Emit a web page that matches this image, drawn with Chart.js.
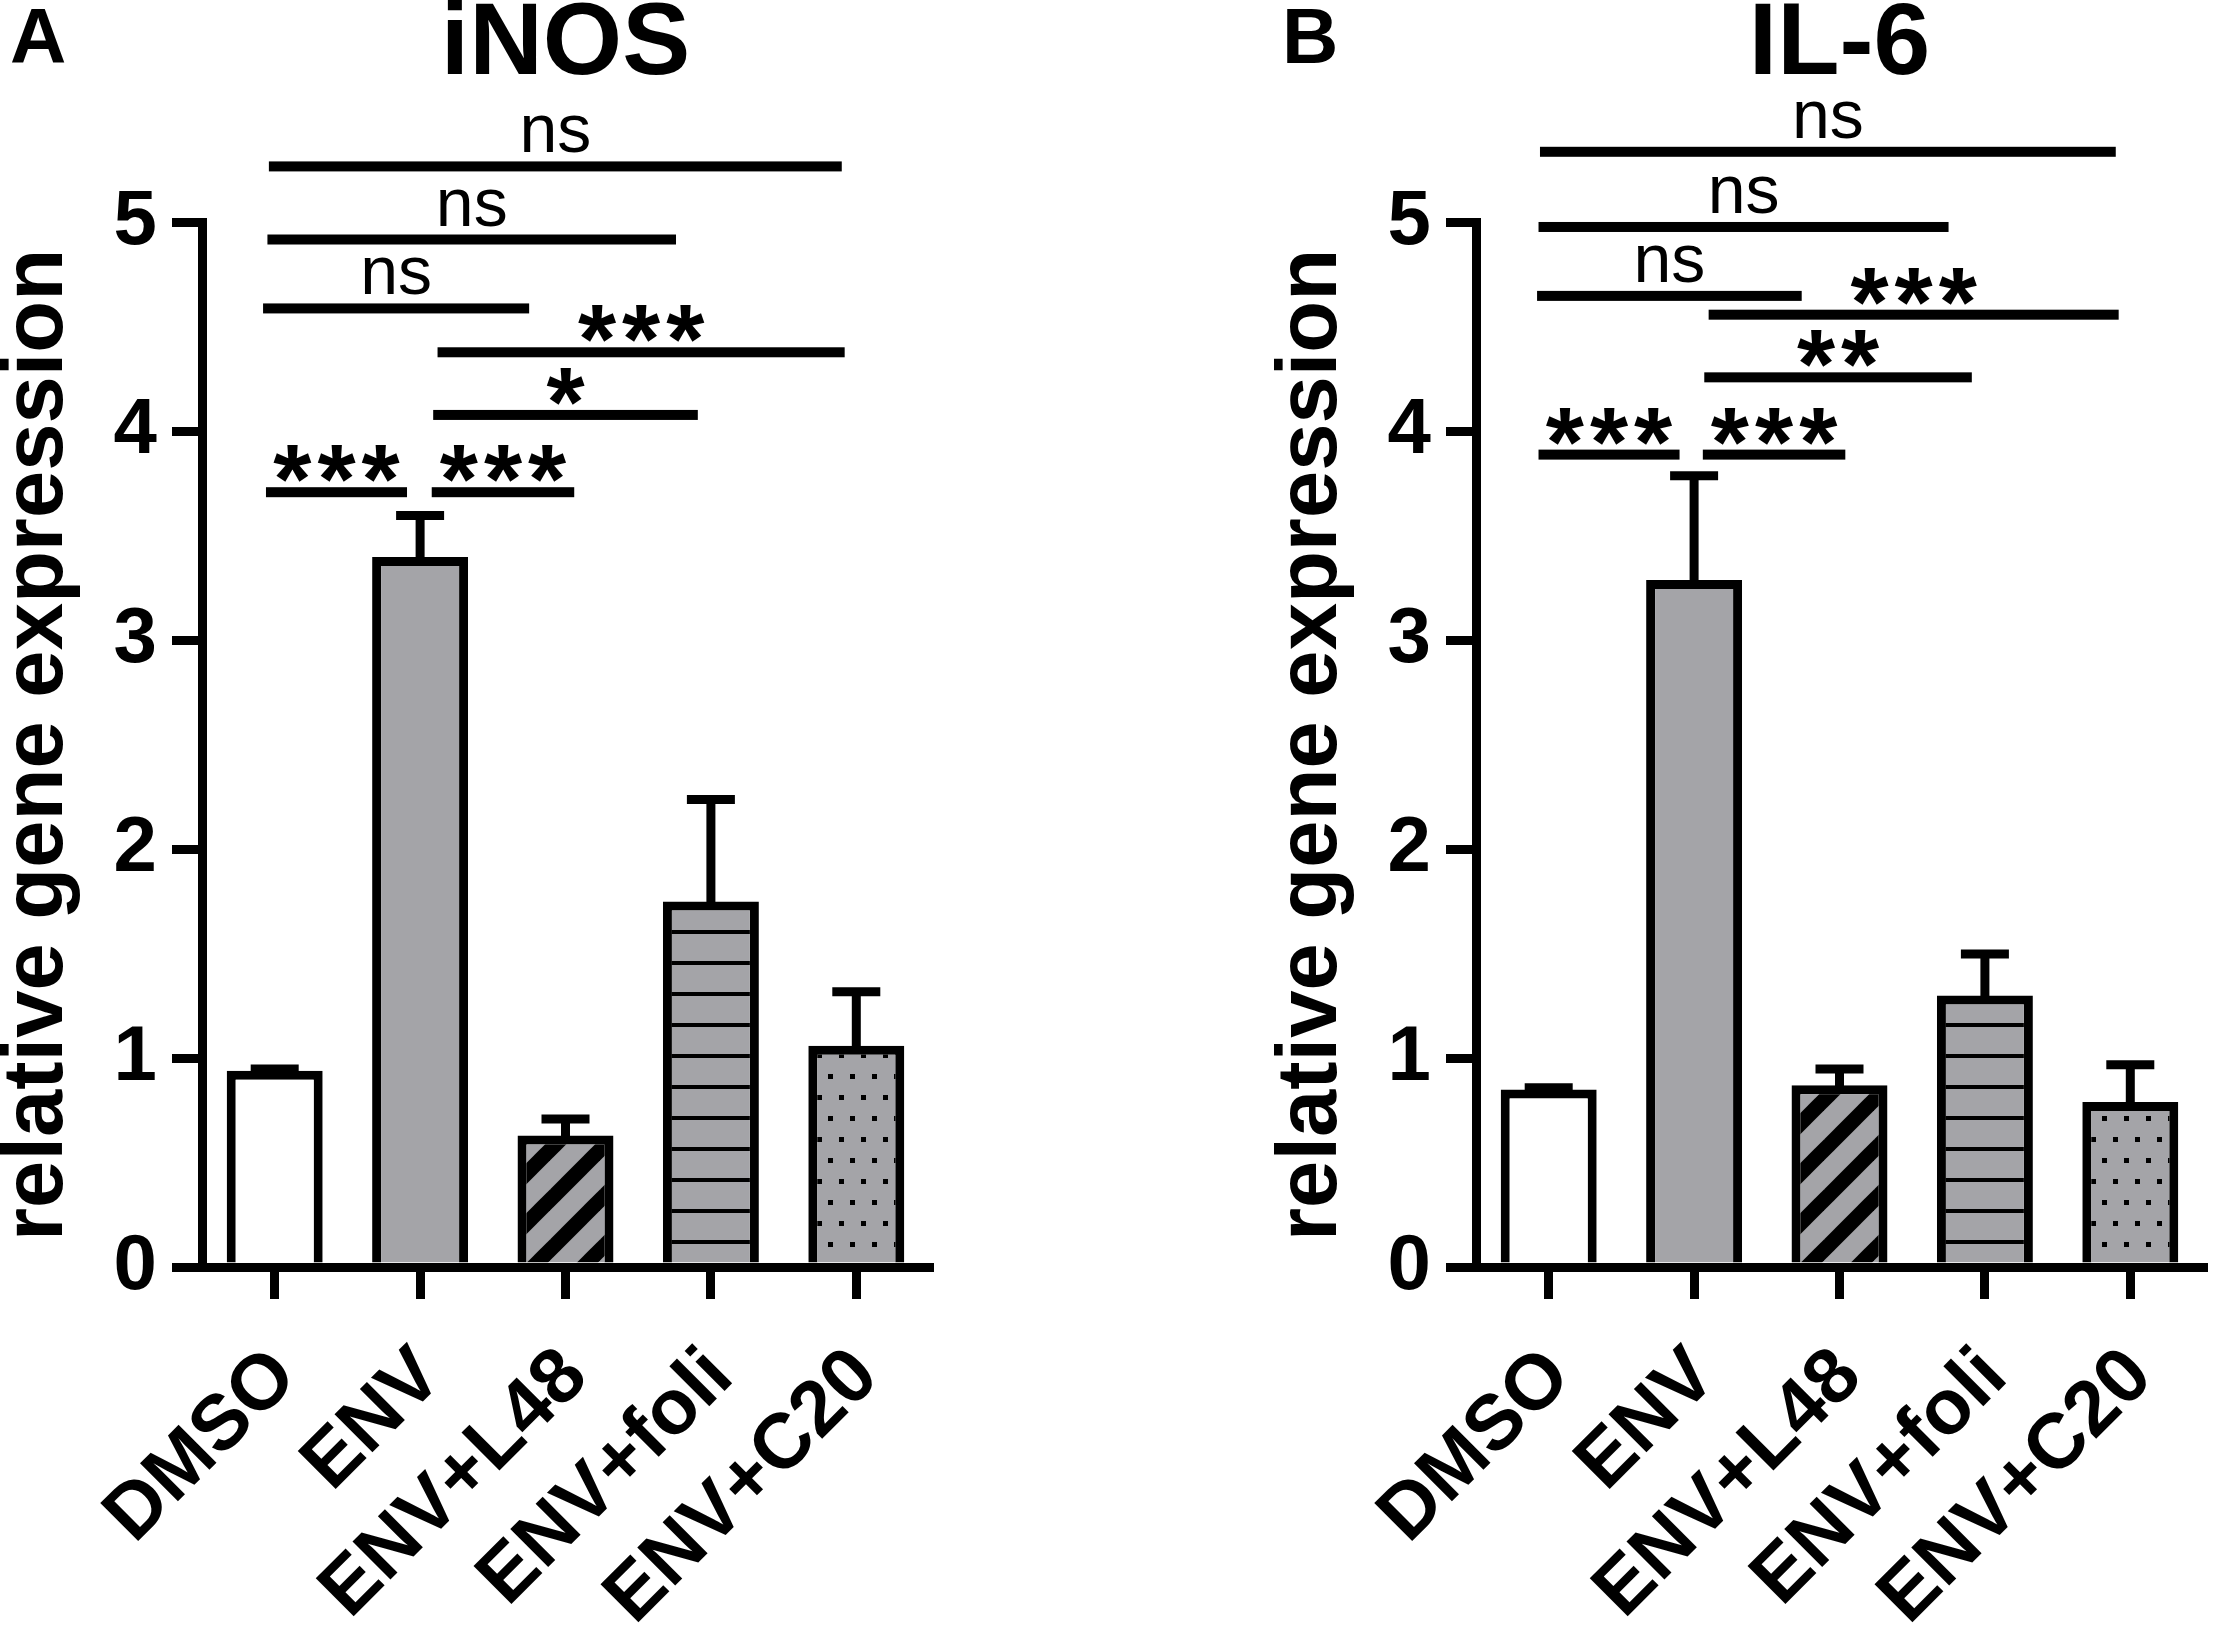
<!DOCTYPE html>
<html><head><meta charset="utf-8">
<script src="https://cdn.jsdelivr.net/npm/chart.js@4.4.0/dist/chart.umd.min.js"></script>
<style>
html,body{margin:0;padding:0;background:#fff;}
#wrap{position:relative;width:2217px;height:1625px;overflow:hidden;background:#fff;}
.panel{position:absolute;top:0;width:940px;height:1625px;}
#pA{left:0;}
#pB{left:1274px;}
</style></head><body>
<div id="wrap">
  <div class="panel" id="pA"><canvas id="cA"></canvas></div>
  <div class="panel" id="pB"><canvas id="cB"></canvas></div>
</div>
<script>
// ---------- data ----------
const categories = ['DMSO', 'ENV', 'ENV+L48', 'ENV+foli', 'ENV+C20'];
const yTickValues = [0, 1, 2, 3, 4, 5];

const inosMean = [0.94, 3.40, 0.63, 1.75, 1.06];
const inosSD   = [0.03, 0.22, 0.10, 0.51, 0.28];

const il6Mean = [0.85, 3.29, 0.87, 1.30, 0.79];
const il6SD   = [0.03, 0.52, 0.10, 0.22, 0.20];

// significance brackets (category index units, value level)
const inosSigLabels = ['ns', 'ns', 'ns', '***', '*', '***', '***'];
const inosSigFrom   = [-0.04, -0.05, -0.08, 1.12, 1.09, -0.06, 1.08];
const inosSigTo     = [3.90, 2.76, 1.75, 3.92, 2.91, 0.91, 2.06];
const inosSigLevel  = [5.27, 4.92, 4.59, 4.38, 4.08, 3.71, 3.71];

const il6SigLabels = ['ns', 'ns', 'ns', '***', '**', '***', '***'];
const il6SigFrom   = [-0.06, -0.07, -0.08, 1.10, 1.07, -0.07, 1.06];
const il6SigTo     = [3.90, 2.75, 1.74, 3.92, 2.91, 0.90, 2.04];
const il6SigLevel  = [5.34, 4.98, 4.65, 4.56, 4.26, 3.89, 3.89];

// ---------- styling ----------
const FONT = '"Liberation Sans", Arial, Helvetica, sans-serif';
const GRAY = '#a4a4a8';
const LW = 9;
Chart.defaults.font.family = FONT;
Chart.defaults.color = '#000';

function makePattern(kind) {
  const c = document.createElement('canvas');
  let g;
  if (kind === 'diag') {
    c.width = 50; c.height = 50; g = c.getContext('2d');
    g.fillStyle = GRAY; g.fillRect(0, 0, 50, 50);
    g.strokeStyle = '#000'; g.lineWidth = 15;
    for (const o of [-50, 0, 50]) { g.beginPath(); g.moveTo(o - 20, 70); g.lineTo(o + 70, -20); g.stroke(); }
  } else if (kind === 'hline') {
    c.width = 10; c.height = 31; g = c.getContext('2d');
    g.fillStyle = GRAY; g.fillRect(0, 0, 10, 31);
    g.fillStyle = '#000'; g.fillRect(0, 0, 10, 4);
  } else {
    c.width = 22; c.height = 42; g = c.getContext('2d');
    g.fillStyle = GRAY; g.fillRect(0, 0, 22, 42);
    g.fillStyle = '#000'; g.fillRect(3, 3, 5, 5); g.fillRect(14, 24, 5, 5);
  }
  return g.createPattern(c, 'repeat');
}

const fills = ['#ffffff', GRAY, makePattern('diag'), makePattern('hline'), makePattern('dots')];

const errBarPlugin = {
  id: 'errbars',
  afterDatasetsDraw(chart, args, opts) {
    const meta = chart.getDatasetMeta(0);
    const ys = chart.scales.y;
    const ctx = chart.ctx;
    ctx.save();
    ctx.strokeStyle = '#000';
    ctx.lineWidth = LW;
    ctx.lineCap = 'butt';
    opts.means.forEach((m, i) => {
      const x = meta.data[i].x;
      const yb = ys.getPixelForValue(m);
      const yt = ys.getPixelForValue(m + opts.sds[i]) + LW / 2;
      ctx.beginPath(); ctx.moveTo(x, yb + 2); ctx.lineTo(x, yt); ctx.stroke();
      ctx.beginPath(); ctx.moveTo(x - 24, yt); ctx.lineTo(x + 24, yt); ctx.stroke();
    });
    ctx.restore();
  }
};

const sigPlugin = {
  id: 'sig',
  afterDraw(chart, args, opts) {
    const xs = chart.scales.x, ys = chart.scales.y, ctx = chart.ctx;
    ctx.save();
    ctx.fillStyle = '#000';
    opts.labels.forEach((lab, i) => {
      const x1 = xs.getPixelForValue(opts.from[i]);
      const x2 = xs.getPixelForValue(opts.to[i]);
      const yy = ys.getPixelForValue(opts.level[i]);
      ctx.fillRect(x1, yy - 5, x2 - x1, 10);
      const star = lab.indexOf('*') >= 0;
      ctx.font = star ? 'bold 98px ' + FONT : '68px ' + FONT;
      ctx.letterSpacing = star ? '6px' : '0px';
      ctx.textAlign = 'center';
      ctx.textBaseline = 'alphabetic';
      const m = ctx.measureText(lab);
      const bottom = yy - (star ? 10 : 13);
      ctx.fillText(lab, (x1 + x2) / 2 + (star ? 3 : 0), bottom - m.actualBoundingBoxDescent);
    });
    ctx.letterSpacing = '0px';
    ctx.font = 'bold 78px ' + FONT;
    ctx.textAlign = 'left';
    ctx.textBaseline = 'alphabetic';
    ctx.fillText(opts.letter, opts.letterX, 63);
    ctx.restore();
  }
};

function makeChart(id, title, means, sds, sigLabels, sigFrom, sigTo, sigLevel, letter, letterX) {
  return new Chart(document.getElementById(id), {
    type: 'bar',
    data: {
      labels: categories,
      datasets: [{
        data: means,
        backgroundColor: fills,
        borderColor: '#000',
        borderWidth: LW,
        borderSkipped: 'start',
        barPercentage: 0.66,
        categoryPercentage: 1.0
      }]
    },
    options: {
      responsive: true,
      maintainAspectRatio: false,
      devicePixelRatio: 1,
      animation: false,
      layout: { padding: { left: 0, right: 11, top: 0, bottom: 0 } },
      plugins: {
        legend: { display: false },
        tooltip: { enabled: false },
        title: {
          display: true, text: title, fullSize: false,
          font: { size: 102, weight: 'bold', lineHeight: 0.9 },
          padding: { top: 0, bottom: 131 }, color: '#000'
        },
        errbars: { means: means, sds: sds },
        sig: { labels: sigLabels, from: sigFrom, to: sigTo, level: sigLevel, letter: letter, letterX: letterX }
      },
      scales: {
        x: {
          afterFit(scale) { scale.height = 358; scale.paddingLeft = 0; scale.paddingRight = 0; },
          grid: { display: true, drawOnChartArea: false, drawTicks: true, offset: false,
                  tickLength: 32, lineWidth: LW, color: '#000', tickColor: '#000' },
          border: { display: true, width: LW, color: '#000' },
          ticks: { font: { size: 78, weight: 'bold' }, color: '#000', minRotation: 45, maxRotation: 45,
                   padding: 32, labelOffset: 10, autoSkip: false }
        },
        y: {
          min: 0, max: 5,
          afterFit(scale) { scale.width = 202; scale.paddingTop = 0; scale.paddingBottom = 0; },
          afterBuildTicks(scale) { scale.ticks = yTickValues.map(v => ({ value: v })); },
          grid: { display: true, drawOnChartArea: false, drawTicks: true,
                  tickLength: 30, lineWidth: LW, color: '#000', tickColor: '#000' },
          border: { display: true, width: LW, color: '#000' },
          ticks: { font: { size: 78, weight: 'bold' }, color: '#000', padding: 15 },
          title: { display: true, text: 'relative gene expression', color: '#000',
                   font: { size: 85, weight: 'bold', lineHeight: 0.9 }, padding: 0 }
        }
      }
    },
    plugins: [errBarPlugin, sigPlugin]
  });
}

makeChart('cA', 'iNOS', inosMean, inosSD, inosSigLabels, inosSigFrom, inosSigTo, inosSigLevel, 'A', 10);
makeChart('cB', 'IL-6', il6Mean, il6SD, il6SigLabels, il6SigFrom, il6SigTo, il6SigLevel, 'B', 8);
</script>
</body></html>
